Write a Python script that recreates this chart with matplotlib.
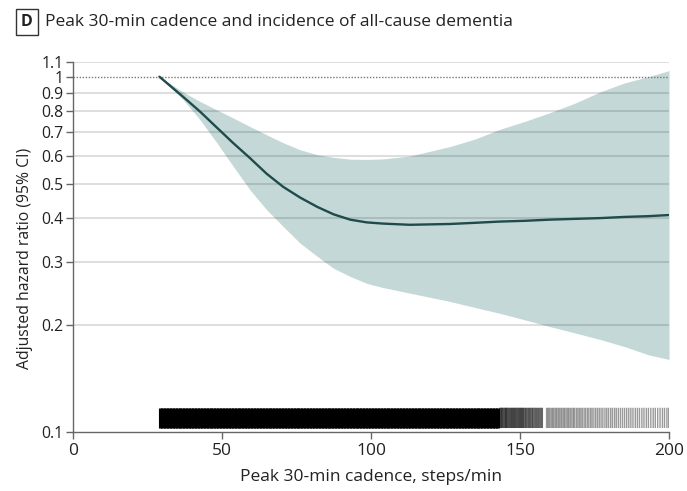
import numpy as np
import matplotlib.pyplot as plt
from matplotlib.ticker import FixedLocator, FixedFormatter, NullLocator

plt.rcParams['font.family'] = ['Open Sans', 'DejaVu Sans']

# spline estimate
cadence = [29, 37, 42.6, 48.2, 53.8, 59.4, 65, 70.5, 76.2, 82, 87.4, 93, 98.6, 104,
           113, 126.5, 135, 143, 151.5, 160, 168.5, 177, 185, 193, 200]
hr = [1.0, 0.877, 0.798, 0.72, 0.65, 0.59, 0.533, 0.49, 0.457, 0.43, 0.41, 0.396, 0.389, 0.386,
      0.383, 0.385, 0.388, 0.391, 0.393, 0.396, 0.398, 0.40, 0.403, 0.405, 0.408]
hr_upper = [1.0, 0.905, 0.852, 0.807, 0.765, 0.724, 0.686, 0.652, 0.623, 0.603, 0.593, 0.586,
            0.585, 0.587, 0.598, 0.636, 0.668, 0.71, 0.748, 0.792, 0.843, 0.907, 0.96, 1.0, 1.04]
hr_lower = [1.0, 0.861, 0.757, 0.653, 0.559, 0.48, 0.422, 0.379, 0.340, 0.312, 0.289, 0.274,
            0.262, 0.255, 0.246, 0.233, 0.224, 0.216, 0.207, 0.198, 0.190, 0.182, 0.174, 0.165, 0.160]

# observed cadence values (rug): solid range, then thinning tail
rug_dense = (29, 143)
rug_mid = [143.2, 143.5, 143.8, 144.0, 144.3, 144.6, 144.9, 145.2, 145.4, 145.7,
           146.0, 146.3, 146.6, 146.9, 147.2, 147.5, 147.8, 148.1, 148.4, 148.7,
           149.0, 149.3, 149.6, 149.9, 150.2, 150.5, 150.8, 151.1, 151.4, 151.8,
           152.1, 152.5, 152.9, 153.2, 153.6, 154.0, 154.3, 154.7, 155.1, 155.5,
           155.9, 156.3, 156.7, 157.1, 157.5]
rug_tail = [158.9, 159.3, 159.7, 160.1, 160.6, 161.0, 161.4, 161.9, 162.3, 162.8,
            163.2, 163.7, 164.1, 164.6, 165.0, 165.5, 166.0, 166.4, 166.9, 167.4,
            167.9, 168.3, 168.9, 169.4, 169.9, 170.4, 170.9, 171.5, 172.0, 172.6,
            173.1, 173.7, 174.2, 174.8, 175.4, 176.0, 176.6, 177.2, 177.8, 178.5,
            179.1, 179.7, 180.4, 181.0, 181.7, 182.3, 183.0, 183.7, 184.4, 185.1,
            185.8, 186.5, 187.2, 187.9, 188.7, 189.4, 190.1, 190.9, 191.6, 192.4,
            193.1, 193.9, 194.7, 195.4, 196.2, 197.0, 197.8, 198.5, 199.3, 199.9]

yticks = [0.1, 0.2, 0.3, 0.4, 0.5, 0.6, 0.7, 0.8, 0.9, 1.0, 1.1]
ylabels = ["0.1", "0.2", "0.3", "0.4", "0.5", "0.6", "0.7", "0.8", "0.9", "1", "1.1"]
xticks = [0, 50, 100, 150, 200]

line_col = "#1f4b4b"
fill_col = "#c5d8d8"
axis_col = "#666666"
text_col = "#222222"

fig = plt.figure(figsize=(6.87, 4.91), dpi=100)
ax = fig.add_axes([0.1063, 0.1202, 0.8675, 0.7535])

ax.set_yscale("log")
ax.set_xlim(0, 200)
ax.set_ylim(0.1, 1.1)

ax.fill_between(cadence, hr_lower, hr_upper, color=fill_col, lw=0, zorder=1)
for t in yticks[1:]:
    if t == 1.0:
        ax.axhline(t, color="#777777", lw=1.0, ls=(0, (1, 1.2)), zorder=2)
    else:
        ax.axhline(t, color="black", alpha=0.13, lw=1.5, zorder=2)
ax.plot(cadence, hr, color=line_col, lw=1.7, zorder=3, solid_capstyle="round",
        solid_joinstyle="round")

# rug
dense = np.arange(rug_dense[0], rug_dense[1], 0.2)
ax.vlines(dense, 0.1026, 0.117, color="black", lw=0.8, zorder=3)
ax.vlines(rug_mid, 0.1026, 0.117, color="black", lw=1.0, alpha=0.6, zorder=3, snap=False)
ax.vlines(rug_tail, 0.1026, 0.117, color="black", lw=1.0, alpha=0.4, zorder=3, snap=False)

ax.yaxis.set_major_locator(FixedLocator(yticks))
ax.yaxis.set_major_formatter(FixedFormatter(ylabels))
ax.yaxis.set_minor_locator(NullLocator())
ax.set_xticks(xticks)

for s in ["top", "right"]:
    ax.spines[s].set_visible(False)
for s in ["left", "bottom"]:
    ax.spines[s].set_color(axis_col)
    ax.spines[s].set_linewidth(1.0)
ax.tick_params(colors=axis_col, labelcolor=text_col, length=5, width=1, pad=2)
ax.tick_params(axis="y", labelsize=11.3)
ax.tick_params(axis="x", labelsize=12.5, pad=3)

ax.set_xlabel("Peak 30-min cadence, steps/min", fontsize=12.5, color=text_col, labelpad=7)
ax.set_ylabel("Adjusted hazard ratio (95% CI)", fontsize=11.3, color=text_col)
ax.yaxis.set_label_coords(-0.068, 0.47)

fig.text(0.0393, 0.955, "D", fontsize=11.5, fontweight="bold", ha="center", va="center",
         color=text_col,
         bbox=dict(boxstyle="square,pad=0.3", fc="white", ec="#333333", lw=1))
fig.text(0.066, 0.955, "Peak 30-min cadence and incidence of all-cause dementia",
         fontsize=12.5, ha="left", va="center", color=text_col)

fig.savefig("out.png", dpi=100)
